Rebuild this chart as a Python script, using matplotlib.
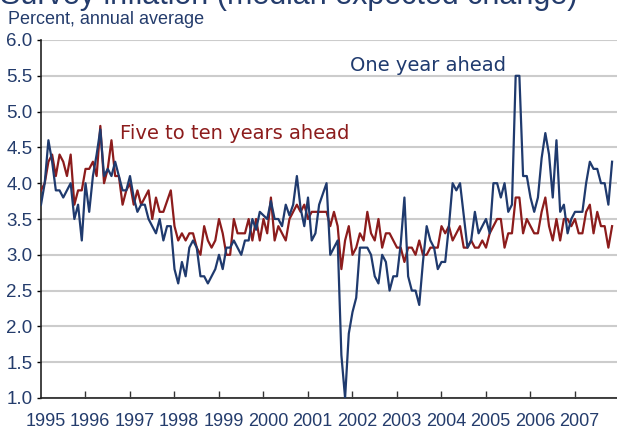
import matplotlib
matplotlib.use("Agg")
import matplotlib.pyplot as plt
import numpy as np

# monthly survey values, Jan 1995 .. Nov 2007
one_year = [
    3.7, 4.0, 4.6, 4.3, 3.9, 3.9, 3.8, 3.9, 4.0, 3.5, 3.7, 3.2,   # 1995
    4.0, 3.6, 4.1, 4.4, 4.75, 4.1, 4.2, 4.1, 4.3, 4.1, 3.9, 3.9,  # 1996
    4.1, 3.8, 3.6, 3.7, 3.7, 3.5, 3.4, 3.3, 3.5, 3.2, 3.4, 3.4,   # 1997
    2.8, 2.6, 2.9, 2.7, 3.1, 3.2, 3.1, 2.7, 2.7, 2.6, 2.7, 2.8,   # 1998
    3.0, 2.8, 3.1, 3.1, 3.2, 3.1, 3.0, 3.2, 3.2, 3.5, 3.35, 3.6,  # 1999
    3.55, 3.5, 3.75, 3.5, 3.5, 3.4, 3.7, 3.55, 3.7, 4.1, 3.65, 3.4,  # 2000
    3.8, 3.2, 3.3, 3.7, 3.85, 4.0, 3.0, 3.1, 3.2, 1.6, 1.0, 1.9,  # 2001
    2.2, 2.4, 3.1, 3.1, 3.1, 3.0, 2.7, 2.6, 3.0, 2.9, 2.5, 2.7,   # 2002
    2.7, 3.15, 3.8, 2.7, 2.5, 2.5, 2.3, 2.9, 3.4, 3.2, 3.1, 2.8,  # 2003
    2.9, 2.9, 3.4, 4.0, 3.9, 4.0, 3.55, 3.1, 3.2, 3.6, 3.3, 3.4,  # 2004
    3.5, 3.3, 4.0, 4.0, 3.8, 4.0, 3.6, 3.7, 5.5, 5.5, 4.1, 4.1,   # 2005
    3.8, 3.6, 3.8, 4.35, 4.7, 4.4, 3.8, 4.6, 3.6, 3.7, 3.3, 3.5,  # 2006
    3.6, 3.6, 3.6, 4.0, 4.3, 4.2, 4.2, 4.0, 4.0, 3.7, 4.3,        # 2007
]
five_ten_year = [
    3.9, 4.0, 4.3, 4.4, 4.1, 4.4, 4.3, 4.1, 4.4, 3.7, 3.9, 3.9,   # 1995
    4.2, 4.2, 4.3, 4.1, 4.8, 4.0, 4.2, 4.6, 4.1, 4.1, 3.7, 3.9,   # 1996
    4.0, 3.7, 3.9, 3.7, 3.8, 3.9, 3.5, 3.8, 3.6, 3.6, 3.75, 3.9,  # 1997
    3.4, 3.2, 3.3, 3.2, 3.3, 3.3, 3.1, 3.0, 3.4, 3.2, 3.1, 3.2,   # 1998
    3.5, 3.3, 3.0, 3.0, 3.5, 3.3, 3.3, 3.3, 3.5, 3.2, 3.5, 3.2,   # 1999
    3.5, 3.3, 3.8, 3.2, 3.4, 3.3, 3.2, 3.5, 3.6, 3.7, 3.6, 3.7,   # 2000
    3.5, 3.6, 3.6, 3.6, 3.6, 3.6, 3.4, 3.6, 3.4, 2.8, 3.2, 3.4,   # 2001
    3.0, 3.1, 3.3, 3.2, 3.6, 3.3, 3.2, 3.5, 3.1, 3.3, 3.3, 3.2,   # 2002
    3.1, 3.1, 2.9, 3.1, 3.1, 3.0, 3.2, 3.0, 3.0, 3.1, 3.1, 3.1,   # 2003
    3.4, 3.3, 3.4, 3.2, 3.3, 3.4, 3.1, 3.1, 3.2, 3.1, 3.1, 3.2,   # 2004
    3.1, 3.3, 3.4, 3.5, 3.5, 3.1, 3.3, 3.3, 3.8, 3.8, 3.3, 3.5,   # 2005
    3.4, 3.3, 3.3, 3.6, 3.8, 3.4, 3.2, 3.5, 3.2, 3.5, 3.5, 3.4,   # 2006
    3.5, 3.3, 3.3, 3.6, 3.7, 3.3, 3.6, 3.4, 3.4, 3.1, 3.4,        # 2007
]
years = list(range(1995, 2008))
y_ticks = [1.0, 1.5, 2.0, 2.5, 3.0, 3.5, 4.0, 4.5, 5.0, 5.5, 6.0]

navy = "#1f3a6e"
red = "#8c1c1c"
txt = "#243c6c"

plt.rcParams['font.family'] = ['Liberation Sans', 'DejaVu Sans']

fig = plt.figure(figsize=(6.17, 4.30), dpi=100)
ax = fig.add_axes([41 / 617, 32 / 430, 576 / 617, 358 / 430])

t = 1995 + np.arange(len(one_year)) / 12.0
ax.plot(t, five_ten_year, color=red, lw=1.6, zorder=3)
ax.plot(t, one_year, color=navy, lw=1.6, zorder=4)

ax.set_xlim(1995, 1995 + 576 / 44.5)
ax.set_ylim(1.0, 6.0)
ax.set_yticks(y_ticks)
ax.set_yticklabels(["%.1f" % v for v in y_ticks], color=txt, fontsize=13.5)
ax.yaxis.grid(True, color="#cccccc", lw=1.5, zorder=0)
ax.set_axisbelow(True)

ax.set_xticks(years[1:])
ax.set_xticklabels([])
ax.tick_params(axis="x", direction="in", length=5, width=1, color="#333333")
ax.set_xticks([y + 0.1 for y in years], minor=True)
ax.set_xticklabels([str(y) for y in years], minor=True, color=txt, fontsize=13)
ax.tick_params(axis="x", which="minor", length=0, pad=11)
ax.tick_params(axis="y", length=3, width=1, pad=3)

for s in ["top", "right"]:
    ax.spines[s].set_visible(False)
ax.spines["left"].set_linewidth(1.2)
ax.spines["bottom"].set_linewidth(1.2)
ax.spines["left"].set_color("#222222")
ax.spines["bottom"].set_color("#222222")

ax.text(2001.95, 5.65, "One year ahead", color=navy, fontsize=14,
        family=["DejaVu Sans"], va="center")
ax.text(1996.78, 4.70, "Five to ten years ahead", color=red, fontsize=14,
        family=["DejaVu Sans"], va="center")

fig.text(8 / 617, 1 - 20 / 430, "Percent, annual average", color=txt,
         fontsize=13, va="center")
fig.text(0, 1 - 4 / 430, "Survey inflation (median expected change)",
         color=txt, fontsize=22, va="baseline")

fig.savefig("out.png", dpi=100)
